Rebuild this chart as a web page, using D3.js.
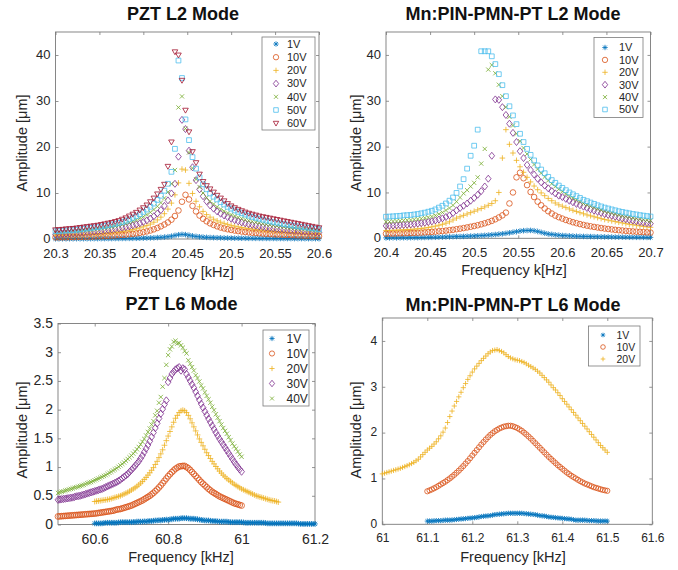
<!DOCTYPE html>
<html lang="en">
<head>
<meta charset="UTF-8">
<title>Resonance sweeps</title>
<script src="https://cdn.jsdelivr.net/npm/d3@7"></script>
<style>
  body { margin: 0; background: #fff; }
  text { font-family: "Liberation Sans", Arial, Helvetica, sans-serif; }
</style>
</head>
<body>
<svg id="fig" width="678" height="570"></svg>
<script>
// ---- data ----
// frequency sweeps: start (kHz) per series and step (kHz)

// PZT L2 mode, all series 20.3 -> 20.6 kHz
const pztL2Labels = ["1V", "10V", "20V", "30V", "40V", "50V", "60V"];
const pztL2Start = 20.3, pztL2Step = 0.004;
const pztL2_1V = [0.05,0.05,0.06,0.05,0.06, 0.06,0.07,0.06,0.07,0.07, 0.08,0.08,0.08,0.09,0.09, 0.1,0.1,0.11,0.11,0.12, 0.13,0.14,0.15,0.16,0.18, 0.2,0.22,0.24,0.27,0.31, 0.36,0.42,0.5,0.62,0.78, 0.92,1.0,0.95,0.82,0.68, 0.56,0.47,0.41,0.36,0.32, 0.29,0.27,0.25,0.23,0.21, 0.2,0.19,0.18,0.17,0.16, 0.15,0.15,0.14,0.14,0.13, 0.13,0.12,0.12,0.11,0.11, 0.1,0.1,0.1,0.09,0.09, 0.09,0.08,0.08,0.08,0.08, 0.07];
const pztL2_10V = [0.35,0.36,0.37,0.38,0.4, 0.42,0.44,0.46,0.48,0.5, 0.52,0.55,0.58,0.61,0.64, 0.68,0.72,0.77,0.82,0.88, 0.95,1.03,1.12,1.22,1.34, 1.48,1.65,1.85,2.1,2.4, 2.75,3.15,3.6,4.2,5.0, 6.2,8.1,9.6,8.6,7.2, 6.0,5.1,4.4,3.85,3.4, 3.05,2.75,2.5,2.3,2.12, 1.97,1.84,1.72,1.62,1.53, 1.45,1.37,1.3,1.24,1.18, 1.12,1.07,1.02,0.98,0.94, 0.9,0.86,0.83,0.8,0.77, 0.74,0.71,0.68,0.66,0.63, 0.61];
const pztL2_20V = [0.7,0.72,0.75,0.78,0.81, 0.84,0.87,0.9,0.94,0.98, 1.02,1.07,1.12,1.17,1.23, 1.3,1.37,1.45,1.54,1.64, 1.76,1.9,2.05,2.22,2.42, 2.65,2.92,3.25,3.65,4.15, 4.75,5.5,6.5,7.8,9.6, 12.2,15.2,15.0,12.1,9.9, 8.2,7.0,6.0,5.3,4.75, 4.3,3.95,3.65,3.4,3.17, 2.97,2.8,2.65,2.5,2.38, 2.27,2.17,2.07,1.98,1.9, 1.82,1.75,1.68,1.62,1.56, 1.5,1.44,1.38,1.33,1.28, 1.23,1.18,1.13,1.08,1.04, 1.0];
const pztL2_30V = [1.0,1.05,1.1,1.15,1.2, 1.25,1.3,1.35,1.4,1.48, 1.55,1.62,1.7,1.78,1.87, 1.96,2.06,2.17,2.3,2.43, 2.58,2.75,2.95,3.15,3.4, 3.7,4.05,4.45,4.95,5.55, 6.3,7.2,8.4,9.9,12.0, 17.9,25.9,23.9,19.2,15.6, 12.8,10.8,9.3,8.2,7.3, 6.6,6.0,5.5,5.1,4.75, 4.4,4.1,3.85,3.6,3.4, 3.2,3.05,2.9,2.75,2.62, 2.5,2.4,2.3,2.2,2.12, 2.04,1.96,1.88,1.81,1.74, 1.68,1.62,1.56,1.5,1.45, 1.4];
const pztL2_40V = [1.4,1.45,1.5,1.55,1.6, 1.65,1.7,1.75,1.85,1.9, 2.0,2.1,2.2,2.3,2.4, 2.5,2.65,2.8,2.95,3.15, 3.35,3.6,3.85,4.15,4.5, 4.85,5.3,5.8,6.4,7.1, 7.9,8.9,10.2,12.0,15.0, 28.6,31.0,24.0,18.8,15.4, 13.0,11.3,10.0,9.0,8.2, 7.6,7.0,6.5,6.05,5.65, 5.3,5.0,4.7,4.45,4.2, 4.0,3.8,3.65,3.5,3.35, 3.2,3.08,2.96,2.85,2.74, 2.64,2.54,2.45,2.36,2.27, 2.19,2.11,2.03,1.96,1.89, 1.82];
const pztL2_50V = [1.7,1.75,1.8,1.85,1.9, 1.95,2.0,2.1,2.2,2.3, 2.4,2.5,2.6,2.7,2.85, 3.0,3.15,3.3,3.5,3.7, 3.95,4.25,4.6,5.0,5.4, 5.9,6.4,7.0,7.7,8.5, 9.4,10.5,12.0,14.6,19.6, 38.8,35.0,26.0,21.5,17.8, 15.3,13.4,11.9,10.8,9.9, 9.2,8.6,8.0,7.5,7.0, 6.6,6.2,5.9,5.6,5.3, 5.05,4.8,4.6,4.4,4.2, 4.0,3.85,3.7,3.55,3.4, 3.25,3.12,3.0,2.88,2.76, 2.65,2.54,2.43,2.33,2.23, 2.13];
const pztL2_60V = [2.0,2.05,2.1,2.2,2.25, 2.3,2.4,2.5,2.6,2.7, 2.8,2.9,3.0,3.15,3.3, 3.45,3.6,3.8,4.0,4.3, 4.6,5.0,5.4,5.8,6.3, 6.8,7.4,8.1,8.9,9.8, 10.8,11.9,15.8,21.1,40.7, 40.0,34.5,28.0,23.3,19.0, 16.6,14.1,12.5,11.6,10.9, 10.2,9.5,8.9,8.3,7.7, 7.2,6.8,6.45,6.15,5.85, 5.6,5.4,5.2,5.0,4.85, 4.7,4.55,4.4,4.25,4.1, 3.95,3.8,3.65,3.5,3.35, 3.2,3.05,2.9,2.75,2.6, 2.45];

// Mn:PIN-PMN-PT L2 mode, all series 20.4 -> 20.7 kHz
const pinL2Labels = ["1V", "10V", "20V", "30V", "40V", "50V"];
const pinL2Start = 20.4, pinL2Step = 0.004;
const pinL2_1V = [0.1,0.1,0.12,0.1,0.12, 0.13,0.12,0.14,0.15,0.15, 0.17,0.18,0.2,0.21,0.23, 0.25,0.27,0.3,0.32,0.35, 0.38,0.4,0.42,0.45,0.48, 0.52,0.55,0.6,0.65,0.7, 0.76,0.82,0.9,0.98,1.08, 1.2,1.32,1.45,1.58,1.66, 1.7,1.72,1.65,1.5,1.3, 1.1,0.95,0.85,0.76,0.68, 0.62,0.57,0.53,0.49,0.46, 0.43,0.41,0.39,0.37,0.35, 0.33,0.32,0.3,0.29,0.28, 0.27,0.26,0.25,0.24,0.23, 0.22,0.22,0.21,0.21,0.2, 0.2];
const pinL2_10V = [1.0,1.02,1.04,1.06,1.08, 1.1,1.13,1.16,1.19,1.22, 1.26,1.3,1.35,1.4,1.46, 1.53,1.6,1.68,1.77,1.87, 1.98,2.1,2.23,2.37,2.52, 2.68,2.85,3.05,3.27,3.52, 3.8,4.15,4.55,5.0,5.6, 7.6,10.0,13.3,14.3,13.1, 11.6,10.1,9.0,8.0,7.2, 6.5,5.9,5.4,4.95,4.6, 4.3,4.0,3.75,3.5,3.3, 3.1,2.92,2.76,2.62,2.48, 2.36,2.24,2.13,2.03,1.94, 1.85,1.77,1.7,1.63,1.56, 1.5,1.45,1.4,1.35,1.3, 1.26];
const pinL2_20V = [1.7,1.72,1.75,1.78,1.82, 1.86,1.9,1.95,2.0,2.07, 2.15,2.25,2.35,2.5,2.65, 2.85,3.05,3.3,3.6,4.0, 4.4,4.7,5.0,5.3,5.6, 5.9,6.2,6.5,6.85,7.2, 7.6,8.2,10.0,17.5,23.7, 20.5,18.6,17.0,15.6,14.4, 13.3,12.3,11.4,10.6,9.9, 9.3,8.7,8.2,7.7,7.3, 7.0,6.7,6.4,6.1,5.85, 5.6,5.35,5.1,4.9,4.7, 4.5,4.3,4.1,3.95,3.8, 3.65,3.5,3.35,3.2,3.05, 2.95,2.85,2.72,2.6,2.5, 2.4];
const pinL2_30V = [2.7,2.72,2.75,2.8,2.85, 2.9,2.95,3.0,3.1,3.2, 3.3,3.4,3.55,3.7,3.9, 4.1,4.35,4.65,5.0,5.5, 6.1,6.6,7.1,7.6,8.2, 8.8,9.5,10.3,11.3,13.0, 18.0,30.3,30.2,28.6,26.9, 25.0,23.0,21.0,19.0,17.5, 16.0,14.9,13.9,13.0,12.2, 11.5,10.9,10.3,9.8,9.3, 9.0,8.6,8.2,7.85,7.5, 7.2,6.9,6.6,6.3,6.05, 5.8,5.55,5.3,5.1,4.9, 4.7,4.5,4.3,4.15,4.0, 3.85,3.7,3.55,3.42,3.3, 3.2];
const pinL2_40V = [3.6,3.65,3.7,3.75,3.8, 3.9,3.95,4.0,4.1,4.2, 4.3,4.45,4.6,4.75,5.0, 5.3,5.65,6.1,6.6,7.2, 8.0,8.9,9.8,10.5,11.3, 12.1,13.3,16.3,19.5,36.8, 37.8,36.0,33.5,31.0,28.6, 26.5,24.6,22.8,21.2,19.7, 18.4,17.2,16.1,15.1,14.2, 13.4,12.6,11.9,11.3,10.7, 10.2,9.7,9.2,8.8,8.4, 8.0,7.6,7.3,7.0,6.7, 6.4,6.15,5.9,5.7,5.5, 5.3,5.1,4.9,4.75,4.6, 4.45,4.3,4.15,4.05,3.95, 3.85];
const pinL2_50V = [4.7,4.75,4.8,4.85,4.9, 5.0,5.05,5.1,5.2,5.3, 5.45,5.6,5.8,6.0,6.3, 6.7,7.1,7.6,8.2,8.9, 9.9,11.3,12.9,15.2,18.0, 20.2,23.7,40.8,40.8,40.8, 39.7,38.0,35.8,33.4,31.0, 28.8,26.8,24.9,22.8,21.0, 19.5,18.2,17.0,15.9,15.0, 14.2,13.4,12.7,12.1,11.5, 11.0,10.5,10.0,9.6,9.2, 8.8,8.4,8.1,7.8,7.5, 7.2,6.95,6.7,6.5,6.3, 6.1,5.9,5.75,5.6,5.45, 5.3,5.2,5.05,4.95,4.85, 4.75];

// PZT L6 mode, each series has its own start
const pztL6Labels = ["1V", "10V", "20V", "30V", "40V"];
const pztL6Start = [60.6, 60.5, 60.6, 60.5, 60.5], pztL6Step = 0.005;
const pztL6_1V = [
  0.02,0.02,0.02,0.02,0.02,0.025,0.03,0.03,0.03,0.03,
  0.03,0.03,0.03,0.035,0.04,0.04,0.04,0.04,0.04,0.04,
  0.04,0.045,0.04,0.05,0.05,0.05,0.05,0.055,0.05,0.06,
  0.06,0.06,0.065,0.07,0.07,0.075,0.07,0.08,0.08,0.085,
  0.08,0.09,0.09,0.10,0.10,0.10,0.10,0.11,0.11,0.11,
  0.11,0.105,0.10,0.10,0.10,0.095,0.09,0.085,0.08,0.075,
  0.07,0.07,0.07,0.065,0.06,0.06,0.06,0.055,0.05,0.05,
  0.05,0.05,0.05,0.045,0.04,0.04,0.04,0.04,0.04,0.04,
  0.04,0.035,0.03,0.03,0.03,0.03,0.03,0.03,0.03,0.03,
  0.03,0.03,0.03,0.025,0.02,0.02,0.02,0.02,0.02,0.02,
  0.02,0.02,0.02,0.02,0.02,0.02,0.02,0.02,0.02,0.02,
  0.02,0.015,0.01,0.01,0.01,0.01,0.01,0.01,0.01,0.01,
  0.01];
const pztL6_10V = [
  0.140,0.142,0.145,0.147,0.150,0.152,0.155,0.157,0.160,0.162,
  0.165,0.167,0.170,0.172,0.175,0.178,0.180,0.183,0.185,0.188,
  0.190,0.195,0.200,0.205,0.210,0.215,0.220,0.225,0.230,0.235,
  0.240,0.250,0.260,0.265,0.270,0.280,0.290,0.300,0.310,0.320,
  0.330,0.345,0.360,0.375,0.390,0.405,0.420,0.440,0.460,0.480,
  0.500,0.525,0.550,0.580,0.610,0.645,0.680,0.720,0.760,0.800,
  0.840,0.875,0.910,0.940,0.970,0.990,1.010,1.015,1.020,1.020,
  1.000,0.980,0.950,0.915,0.880,0.845,0.810,0.775,0.740,0.710,
  0.680,0.650,0.620,0.595,0.570,0.550,0.530,0.510,0.490,0.475,
  0.460,0.445,0.430,0.415,0.400,0.385,0.370,0.360,0.350,0.340,
  0.330];
const pztL6_20V = [
  0.40,0.405,0.41,0.415,0.42,0.425,0.43,0.435,0.44,0.45,
  0.46,0.47,0.48,0.49,0.50,0.515,0.53,0.545,0.56,0.58,
  0.60,0.62,0.64,0.665,0.69,0.72,0.75,0.785,0.82,0.86,
  0.90,0.945,0.99,1.045,1.10,1.165,1.23,1.30,1.38,1.46,
  1.54,1.62,1.70,1.78,1.85,1.90,1.95,1.98,1.99,1.98,
  1.95,1.90,1.84,1.77,1.70,1.63,1.56,1.49,1.43,1.37,
  1.31,1.25,1.20,1.15,1.10,1.055,1.01,0.97,0.93,0.895,
  0.86,0.83,0.80,0.775,0.75,0.725,0.70,0.68,0.66,0.64,
  0.62,0.605,0.59,0.575,0.56,0.545,0.53,0.515,0.50,0.49,
  0.48,0.47,0.46,0.45,0.44,0.43,0.42,0.415,0.41,0.40,
  0.39];
const pztL6_30V = [
  0.43,0.435,0.44,0.445,0.45,0.455,0.46,0.465,0.47,0.48,
  0.49,0.495,0.50,0.51,0.52,0.53,0.54,0.55,0.56,0.57,
  0.58,0.59,0.60,0.61,0.62,0.635,0.65,0.665,0.68,0.695,
  0.71,0.725,0.74,0.76,0.78,0.805,0.83,0.855,0.88,0.915,
  0.95,0.985,1.02,1.06,1.10,1.15,1.20,1.26,1.32,1.385,
  1.45,1.525,1.60,1.68,1.76,1.845,1.93,2.01,2.09,2.16,
  2.48,2.55,2.62,2.66,2.70,2.72,2.74,2.68,2.72,2.70,
  2.62,2.56,2.50,2.44,2.38,2.31,2.24,2.17,2.10,2.035,
  1.97,1.905,1.84,1.78,1.72,1.66,1.60,1.545,1.49,1.44,
  1.39,1.34,1.29,1.24,1.19,1.14,1.09,1.045,1.00,0.96,
  0.92];
const pztL6_40V = [
  0.55,0.56,0.57,0.58,0.59,0.60,0.61,0.62,0.63,0.64,
  0.65,0.66,0.67,0.68,0.69,0.705,0.72,0.73,0.74,0.755,
  0.77,0.785,0.80,0.815,0.83,0.845,0.86,0.88,0.90,0.92,
  0.94,0.96,0.98,1.005,1.03,1.055,1.08,1.11,1.14,1.17,
  1.20,1.235,1.27,1.31,1.35,1.395,1.44,1.49,1.55,1.61,
  1.67,1.74,1.80,1.90,1.98,2.12,2.22,2.40,2.55,2.78,
  2.95,3.05,3.10,3.18,3.20,3.15,3.16,3.12,3.08,3.02,
  2.98,2.86,2.80,2.74,2.68,2.60,2.55,2.49,2.42,2.37,
  2.30,2.24,2.18,2.12,2.05,1.99,1.92,1.86,1.80,1.74,
  1.68,1.63,1.58,1.52,1.47,1.41,1.36,1.32,1.27,1.22,
  1.18];

// Mn:PIN-PMN-PT L6 mode
const pinL6Labels = ["1V", "10V", "20V"];
const pinL6Start = [61.1, 61.1, 61.0], pinL6Step = 0.005;
const pinL6_1V = [
  0.07,0.07,0.07,0.075,0.08,0.08,0.08,0.085,0.09,0.09,
  0.09,0.095,0.10,0.105,0.11,0.115,0.12,0.125,0.13,0.135,
  0.14,0.145,0.15,0.16,0.17,0.175,0.18,0.185,0.19,0.20,
  0.21,0.215,0.22,0.225,0.23,0.235,0.24,0.24,0.24,0.24,
  0.24,0.24,0.24,0.235,0.23,0.225,0.22,0.215,0.21,0.20,
  0.19,0.185,0.18,0.17,0.16,0.155,0.15,0.145,0.14,0.135,
  0.13,0.125,0.12,0.115,0.11,0.10,0.09,0.09,0.09,0.09,
  0.09,0.085,0.08,0.08,0.08,0.075,0.07,0.07,0.07,0.07,
  0.07];
const pinL6_10V = [
  0.72,0.74,0.76,0.785,0.81,0.84,0.87,0.90,0.93,0.965,
  1.00,1.04,1.08,1.125,1.17,1.22,1.27,1.325,1.38,1.44,
  1.50,1.56,1.62,1.68,1.74,1.795,1.85,1.90,1.95,1.99,
  2.03,2.06,2.09,2.11,2.13,2.14,2.15,2.15,2.14,2.12,
  2.10,2.07,2.04,2.00,1.96,1.915,1.87,1.82,1.77,1.72,
  1.67,1.62,1.57,1.52,1.47,1.425,1.38,1.335,1.29,1.25,
  1.21,1.17,1.13,1.095,1.06,1.03,1.00,0.97,0.94,0.915,
  0.89,0.87,0.85,0.83,0.81,0.795,0.78,0.765,0.75,0.74,
  0.73];
const pinL6_20V = [
  1.10,1.115,1.13,1.145,1.16,1.175,1.19,1.205,1.22,1.24,
  1.26,1.28,1.30,1.325,1.35,1.385,1.42,1.47,1.52,1.57,
  1.62,1.66,1.70,1.75,1.80,1.865,1.93,2.01,2.10,2.22,
  2.35,2.47,2.58,2.68,2.78,2.88,2.98,3.07,3.16,3.24,
  3.32,3.39,3.45,3.51,3.57,3.62,3.67,3.72,3.76,3.79,
  3.80,3.81,3.79,3.77,3.74,3.70,3.66,3.63,3.61,3.59,
  3.58,3.57,3.55,3.53,3.50,3.47,3.44,3.41,3.38,3.34,
  3.30,3.25,3.20,3.15,3.10,3.04,2.98,2.93,2.87,2.81,
  2.74,2.68,2.62,2.56,2.50,2.44,2.38,2.32,2.26,2.20,
  2.14,2.08,2.02,1.96,1.90,1.84,1.78,1.72,1.67,1.62,
  1.57];

// tick values
const pztL2XTicks = [20.3, 20.35, 20.4, 20.45, 20.5, 20.55, 20.6];
const pinL2XTicks = [20.4, 20.45, 20.5, 20.55, 20.6, 20.65, 20.7];
const l2YTicks = [0, 10, 20, 30, 40];
const pztL6XTicks = [60.6, 60.8, 61, 61.2];
const pztL6YTicks = [0, 0.5, 1, 1.5, 2, 2.5, 3, 3.5];
const pinL6XTicks = [61, 61.1, 61.2, 61.3, 61.4, 61.5, 61.6];
const pinL6YTicks = [0, 1, 2, 3, 4];

// ---- styling (MATLAB default colour order + markers) ----
const voltStyle = {
  "1V":  { color: "#0072BD", shape: "star" },
  "10V": { color: "#D95319", shape: "circle" },
  "20V": { color: "#EDB120", shape: "plus" },
  "30V": { color: "#7E2F8E", shape: "diamond" },
  "40V": { color: "#77AC30", shape: "cross" },
  "50V": { color: "#4DBEEE", shape: "square" },
  "60V": { color: "#A2142F", shape: "triDown" }
};

const markerPath = {
  star: r => { const k = r * 0.72; return `M${-r},0H${r}M0,${-r}V${r}M${-k},${-k}L${k},${k}M${-k},${k}L${k},${-k}`; },
  circle: r => `M${r},0A${r},${r} 0 1,1 ${-r},0A${r},${r} 0 1,1 ${r},0Z`,
  plus: r => `M${-r},0H${r}M0,${-r}V${r}`,
  diamond: r => `M0,${-r * 1.25}L${r},0L0,${r * 1.25}L${-r},0Z`,
  cross: r => { const k = r * 0.75; return `M${-k},${-k}L${k},${k}M${-k},${k}L${k},${-k}`; },
  square: r => { const k = r * 0.85; return `M${-k},${-k}H${k}V${k}H${-k}Z`; },
  triDown: r => `M${-r},${-r * 0.7}H${r}L0,${r * 1.05}Z`
};

const svg = d3.select("#fig");
const axisColor = "#7a7a7a";
const textColor = "#262626";
const fmt = d => String(+d.toFixed(2));

function series(labels, starts, step, amps) {
  return labels.map((lab, k) => {
    const s0 = Array.isArray(starts) ? starts[k] : starts;
    return { label: lab, points: amps[k].map((v, i) => ({ f: s0 + i * step, v })) };
  });
}

function drawPanel(p) {
  const x = d3.scaleLinear().domain(p.xDomain).range([p.left, p.right]);
  const y = d3.scaleLinear().domain(p.yDomain).range([p.bottom, p.top]);
  const g = svg.append("g");

  // ticks (inward, mirrored on top/right like MATLAB box)
  const styleAxis = (sel, size) => {
    sel.select(".domain").remove();
    sel.selectAll(".tick line").attr("stroke", axisColor).attr("stroke-width", 0.8);
    sel.selectAll(".tick text").attr("fill", textColor).style("font-size", size + "px");
  };
  g.append("g").attr("transform", `translate(0,${p.bottom})`)
    .call(d3.axisBottom(x).tickValues(p.xTicks).tickFormat(fmt).tickSize(-3).tickPadding(9.5))
    .call(a => styleAxis(a, p.tickFont));
  g.append("g").attr("transform", `translate(0,${p.top})`)
    .call(d3.axisTop(x).tickValues(p.xTicks).tickFormat("").tickSize(-3))
    .call(a => styleAxis(a, p.tickFont));
  g.append("g").attr("transform", `translate(${p.left},0)`)
    .call(d3.axisLeft(y).tickValues(p.yTicks).tickFormat(fmt).tickSize(-3).tickPadding(5))
    .call(a => styleAxis(a, p.tickFont))
    .call(a => a.selectAll(".tick text").attr("dy", "0.28em"));
  g.append("g").attr("transform", `translate(${p.right},0)`)
    .call(d3.axisRight(y).tickValues(p.yTicks).tickFormat("").tickSize(-3))
    .call(a => styleAxis(a, p.tickFont));

  g.append("rect")
    .attr("x", p.left).attr("y", p.top)
    .attr("width", p.right - p.left).attr("height", p.bottom - p.top)
    .attr("fill", "none").attr("stroke", axisColor).attr("stroke-width", 0.9);

  // markers, first series underneath
  p.data.forEach(s => {
    const st = voltStyle[s.label];
    g.append("g")
      .selectAll("path")
      .data(s.points)
      .join("path")
      .attr("transform", d => `translate(${x(d.f)},${y(d.v)})`)
      .attr("d", markerPath[st.shape](p.r))
      .attr("fill", "none")
      .attr("stroke", st.color)
      .attr("stroke-width", 0.8);
  });

  // legend
  const L = p.legend;
  const lg = g.append("g");
  lg.append("rect")
    .attr("x", L.x0).attr("y", L.y0)
    .attr("width", L.x1 - L.x0).attr("height", L.y1 - L.y0)
    .attr("fill", "#fff").attr("stroke", axisColor).attr("stroke-width", 0.8);
  p.data.forEach((s, i) => {
    const st = voltStyle[s.label];
    const cy = L.row0 + i * L.dy;
    lg.append("path")
      .attr("transform", `translate(${L.mx},${cy})`)
      .attr("d", markerPath[st.shape](L.r))
      .attr("fill", "none").attr("stroke", st.color).attr("stroke-width", 0.8);
    lg.append("text")
      .attr("x", L.tx).attr("y", cy).attr("dy", "0.35em")
      .attr("fill", textColor).style("font-size", L.font + "px")
      .text(s.label);
  });

  // title and axis labels
  g.append("text")
    .attr("x", p.titleX).attr("y", p.titleY)
    .attr("text-anchor", "middle")
    .attr("fill", "#111").style("font-size", "18px").style("font-weight", "bold")
    .text(p.title);
  g.append("text")
    .attr("x", p.xLabelX).attr("y", p.xLabelY)
    .attr("text-anchor", "middle")
    .attr("fill", textColor).style("font-size", "14.5px")
    .text(p.xLabel);
  g.append("text")
    .attr("transform", `translate(${p.yLabelX},${p.yLabelY}) rotate(-90)`)
    .attr("text-anchor", "middle")
    .attr("fill", textColor).style("font-size", "14.5px")
    .text("Amplitude [\u03bcm]");
}

drawPanel({
  left: 55.5, right: 319, top: 32, bottom: 239,
  xDomain: [20.3, 20.6], yDomain: [0, 45],
  xTicks: pztL2XTicks, yTicks: l2YTicks, tickFont: 13, r: 2.8,
  data: series(pztL2Labels, pztL2Start, pztL2Step,
    [pztL2_1V, pztL2_10V, pztL2_20V, pztL2_30V, pztL2_40V, pztL2_50V, pztL2_60V]),
  legend: { x0: 262, x1: 315, y0: 37, y1: 130, row0: 44, dy: 13.2, mx: 276, tx: 287, font: 11, r: 2.7 },
  title: "PZT L2 Mode", titleX: 183, titleY: 20,
  xLabel: "Frequency [kHz]", xLabelX: 181, xLabelY: 277,
  yLabelX: 26.5, yLabelY: 143
});

drawPanel({
  left: 386, right: 650.5, top: 32, bottom: 238.3,
  xDomain: [20.4, 20.7], yDomain: [0, 45],
  xTicks: pinL2XTicks, yTicks: l2YTicks, tickFont: 13, r: 2.8,
  data: series(pinL2Labels, pinL2Start, pinL2Step,
    [pinL2_1V, pinL2_10V, pinL2_20V, pinL2_30V, pinL2_40V, pinL2_50V]),
  legend: { x0: 594, x1: 643, y0: 37.5, y1: 117.5, row0: 47.5, dy: 12.4, mx: 605, tx: 619, font: 11, r: 2.7 },
  title: "Mn:PIN-PMN-PT L2 Mode", titleX: 513, titleY: 20,
  xLabel: "Frequency k[Hz]", xLabelX: 514, xLabelY: 275,
  yLabelX: 360.5, yLabelY: 143
});

drawPanel({
  left: 58, right: 315, top: 323.5, bottom: 524.5,
  xDomain: [60.5, 61.2], yDomain: [0, 3.5],
  xTicks: pztL6XTicks, yTicks: pztL6YTicks, tickFont: 14, r: 2.9,
  data: series(pztL6Labels, pztL6Start, pztL6Step,
    [pztL6_1V, pztL6_10V, pztL6_20V, pztL6_30V, pztL6_40V]),
  legend: { x0: 263, x1: 309, y0: 330, y1: 406, row0: 338.5, dy: 15, mx: 272, tx: 286.5, font: 12, r: 2.6 },
  title: "PZT L6 Mode", titleX: 181.5, titleY: 310,
  xLabel: "Frequency [kHz]", xLabelX: 181, xLabelY: 562,
  yLabelX: 26.5, yLabelY: 430
});

drawPanel({
  left: 382.3, right: 652.3, top: 318, bottom: 524.3,
  xDomain: [61, 61.6], yDomain: [0, 4.5],
  xTicks: pinL6XTicks, yTicks: pinL6YTicks, tickFont: 12, r: 2.6,
  data: series(pinL6Labels, pinL6Start, pinL6Step,
    [pinL6_1V, pinL6_10V, pinL6_20V]),
  legend: { x0: 588.5, x1: 640, y0: 326, y1: 366, row0: 335, dy: 12, mx: 603, tx: 616.5, font: 10.5, r: 2.3 },
  title: "Mn:PIN-PMN-PT L6 Mode", titleX: 513, titleY: 311,
  xLabel: "Frequency [kHz]", xLabelX: 513, xLabelY: 562,
  yLabelX: 360.5, yLabelY: 430
});
</script>
</body>
</html>
